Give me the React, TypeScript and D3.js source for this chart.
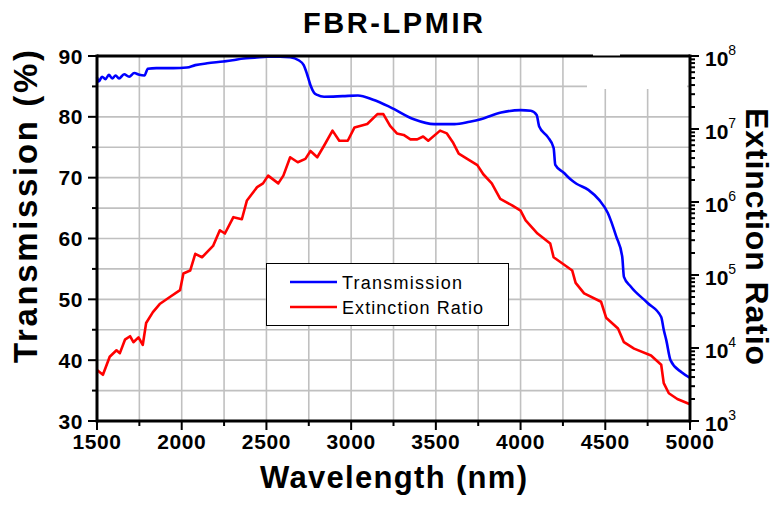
import * as d3 from 'd3';

// Transmission (%) vs wavelength (nm)
const transWl = [1500, 1510, 1530, 1550, 1570, 1590, 1610, 1630, 1660, 1690, 1720, 1750, 1780, 1800, 1850, 1950, 2030, 2080, 2150, 2245, 2300, 2365, 2430, 2505, 2580, 2640, 2690, 2720, 2740, 2760, 2780, 2800, 2840, 2950, 3040, 3130, 3230, 3370, 3490, 3610, 3700, 3765, 3885, 4000, 4060, 4095, 4110, 4160, 4195, 4205, 4255, 4300, 4330, 4400, 4465, 4515, 4565, 4600, 4610, 4650, 4750, 4830, 4845, 4860, 4885, 4950, 5000];
const transVal = [86.5, 85.8, 86.6, 86.2, 86.9, 86.3, 86.8, 86.3, 87.0, 86.6, 87.2, 86.9, 86.8, 87.9, 88.0, 88.0, 88.1, 88.5, 88.8, 89.1, 89.3, 89.6, 89.7, 89.9, 89.9, 89.8, 89.3, 88.5, 87.0, 85.2, 84.0, 83.6, 83.3, 83.4, 83.5, 82.8, 81.6, 79.6, 78.8, 78.8, 79.2, 79.6, 80.7, 81.1, 81.0, 80.3, 78.4, 76.7, 74.9, 72.1, 70.8, 69.6, 69.0, 68.0, 66.3, 64.2, 60.3, 57.0, 53.7, 52.1, 49.4, 47.1, 45.0, 43.3, 40.0, 38.0, 37.1];

// Extinction ratio vs wavelength (nm)
const erWl = [1500, 1535, 1575, 1615, 1635, 1665, 1695, 1715, 1745, 1770, 1790, 1830, 1870, 1930, 1990, 2010, 2050, 2080, 2120, 2185, 2225, 2255, 2305, 2355, 2385, 2445, 2480, 2510, 2570, 2600, 2640, 2685, 2730, 2760, 2800, 2840, 2890, 2930, 2980, 3020, 3095, 3155, 3190, 3230, 3270, 3310, 3350, 3390, 3425, 3455, 3525, 3565, 3600, 3635, 3685, 3745, 3780, 3830, 3880, 3950, 4000, 4030, 4100, 4175, 4195, 4245, 4305, 4325, 4375, 4475, 4505, 4575, 4610, 4670, 4770, 4830, 4845, 4875, 4925, 5000];
const erVal = [5.0e3, 4.3e3, 7.6e3, 9.3e3, 8.5e3, 1.3e4, 1.45e4, 1.2e4, 1.4e4, 1.1e4, 2.2e4, 3.1e4, 4.0e4, 5.0e4, 6.2e4, 1.05e5, 1.15e5, 1.95e5, 1.75e5, 2.5e5, 4.1e5, 3.7e5, 6.2e5, 5.8e5, 1.05e6, 1.6e6, 1.8e6, 2.3e6, 1.8e6, 2.3e6, 4.1e6, 3.5e6, 3.9e6, 5.0e6, 4.1e6, 5.9e6, 9.5e6, 6.9e6, 6.9e6, 1.05e7, 1.17e7, 1.6e7, 1.6e7, 1.1e7, 8.7e6, 8.3e6, 7.2e6, 7.2e6, 7.9e6, 6.9e6, 9.5e6, 8.7e6, 6.6e6, 4.6e6, 3.9e6, 3.2e6, 2.4e6, 1.8e6, 1.1e6, 9.0e5, 7.6e5, 5.6e5, 3.7e5, 2.7e5, 1.75e5, 1.45e5, 1.15e5, 7.8e4, 5.6e4, 4.3e4, 2.6e4, 1.85e4, 1.2e4, 9.8e3, 7.9e3, 5.9e3, 3.3e3, 2.4e3, 2.0e3, 1.7e3];

const xTicks = [1500, 2000, 2500, 3000, 3500, 4000, 4500, 5000];
const yTicks = [30, 40, 50, 60, 70, 80, 90];
const erExponents = [3, 4, 5, 6, 7, 8];

export default function App() {
  const W = 780, H = 511;
  const left = 97, right = 690, top = 56, bottom = 421;
  const font = 'Arial, "Liberation Sans", sans-serif';

  const x = d3.scaleLinear().domain([1500, 5000]).range([left, right]);
  const y = d3.scaleLinear().domain([30, 90]).range([bottom, top]);
  const yr = d3.scaleLog().domain([1e3, 1e8]).range([bottom, top]);

  const transLine = d3.line<number>()
    .x((_, i) => x(transWl[i]))
    .y(d => y(d))
    .curve(d3.curveMonotoneX);
  const erLine = d3.line<number>()
    .x((_, i) => x(erWl[i]))
    .y(d => yr(d));

  const gridX = d3.range(1750, 5000, 250);
  const gridY = d3.range(35, 90, 5);
  const minorX = d3.range(1750, 5000, 500);
  const minorY = d3.range(35, 90, 10);
  const minorLog: number[] = [];
  for (let e = 3; e < 8; e++) for (let m = 2; m <= 9; m++) minorLog.push(m * Math.pow(10, e));

  return (
    <svg width={W} height={H} style={{ position: 'absolute', left: 0, top: 0, background: '#fff' }} fontFamily={font}>
      <rect x={0} y={0} width={W} height={H} fill="#fff" />
      {/* grid */}
      <g stroke="#c0c0c0" strokeWidth={1.6}>
        {gridX.map(v => <line key={'gx' + v} x1={x(v)} x2={x(v)} y1={top} y2={bottom} />)}
        {gridY.map(v => <line key={'gy' + v} x1={left} x2={right} y1={y(v)} y2={y(v)} />)}
      </g>
      {/* white patch in top right */}
      <rect x={587} y={57} width={100} height={32} fill="#fff" />

      {/* curves */}
      <path d={erLine(erVal) || ''} fill="none" stroke="#ff0000" strokeWidth={2.6} strokeLinejoin="round" />
      <path d={transLine(transVal) || ''} fill="none" stroke="#0000ff" strokeWidth={2.6} strokeLinejoin="round" />

      {/* frame */}
      <g stroke="#000" strokeWidth={3} fill="none">
        <line x1={left} x2={right} y1={top} y2={top} />
        <line x1={left} x2={right} y1={bottom} y2={bottom} />
        <line x1={left} x2={left} y1={top - 1.5} y2={bottom + 1.5} />
        <line x1={right} x2={right} y1={top - 1.5} y2={bottom + 1.5} />
      </g>
      <rect x={593} y={53} width={27} height={2.5} fill="#fff" />

      {/* ticks */}
      <g stroke="#000" strokeWidth={2}>
        {xTicks.map(v => <line key={'xt' + v} x1={x(v)} x2={x(v)} y1={bottom} y2={bottom + 9} />)}
        {minorX.map(v => <line key={'xm' + v} x1={x(v)} x2={x(v)} y1={bottom} y2={bottom + 5} />)}
        {yTicks.map(v => <line key={'yt' + v} x1={left - 9} x2={left} y1={y(v)} y2={y(v)} />)}
        {minorY.map(v => <line key={'ym' + v} x1={left - 5} x2={left} y1={y(v)} y2={y(v)} />)}
        {erExponents.map(e => <line key={'rt' + e} x1={right} x2={right + 9} y1={yr(Math.pow(10, e))} y2={yr(Math.pow(10, e))} />)}
        {minorLog.map(v => <line key={'rm' + v} x1={right} x2={right + 5} y1={yr(v)} y2={yr(v)} />)}
      </g>

      {/* tick labels */}
      <g fontWeight="bold" fontSize={21} fill="#000">
        {xTicks.map(v => (
          <text key={'xl' + v} x={x(v)} y={bottom + 28} textAnchor="middle" letterSpacing={0.6}>{v}</text>
        ))}
        {yTicks.map(v => (
          <text key={'yl' + v} x={left - 14} y={y(v) + 7.5} textAnchor="end" letterSpacing={0.6}>{v}</text>
        ))}
        {erExponents.map(e => (
          <text key={'rl' + e} x={right + 15} y={yr(Math.pow(10, e)) + 10}>
            10<tspan fontSize={14} fontWeight="normal" dy={-11}>{e}</tspan>
          </text>
        ))}
      </g>

      {/* titles */}
      <text x={393} y={33} textAnchor="middle" fontWeight="bold" fontSize={29} textLength={180} lengthAdjust="spacing">FBR-LPMIR</text>
      <text x={393.5} y={488} textAnchor="middle" fontWeight="bold" fontSize={31} textLength={267} lengthAdjust="spacing">Wavelength (nm)</text>
      <text transform={`translate(37,206.5) rotate(-90)`} textAnchor="middle" fontWeight="bold" fontSize={33} textLength={313} lengthAdjust="spacing">Transmission (%)</text>
      <text transform={`translate(746,236.5) rotate(90)`} textAnchor="middle" fontWeight="bold" fontSize={32} textLength={257} lengthAdjust="spacing">Extinction Ratio</text>

      {/* legend */}
      <rect x={266.5} y={263.5} width={242} height={62} fill="#fff" stroke="#000" strokeWidth={1} />
      <line x1={290} x2={337} y1={282} y2={282} stroke="#0000ff" strokeWidth={2.6} />
      <line x1={290} x2={337} y1={307} y2={307} stroke="#ff0000" strokeWidth={2.6} />
      <text x={342} y={288.5} fontSize={18} textLength={120} lengthAdjust="spacing">Transmission</text>
      <text x={342} y={313.5} fontSize={18} textLength={141} lengthAdjust="spacing">Extinction Ratio</text>
    </svg>
  );
}
